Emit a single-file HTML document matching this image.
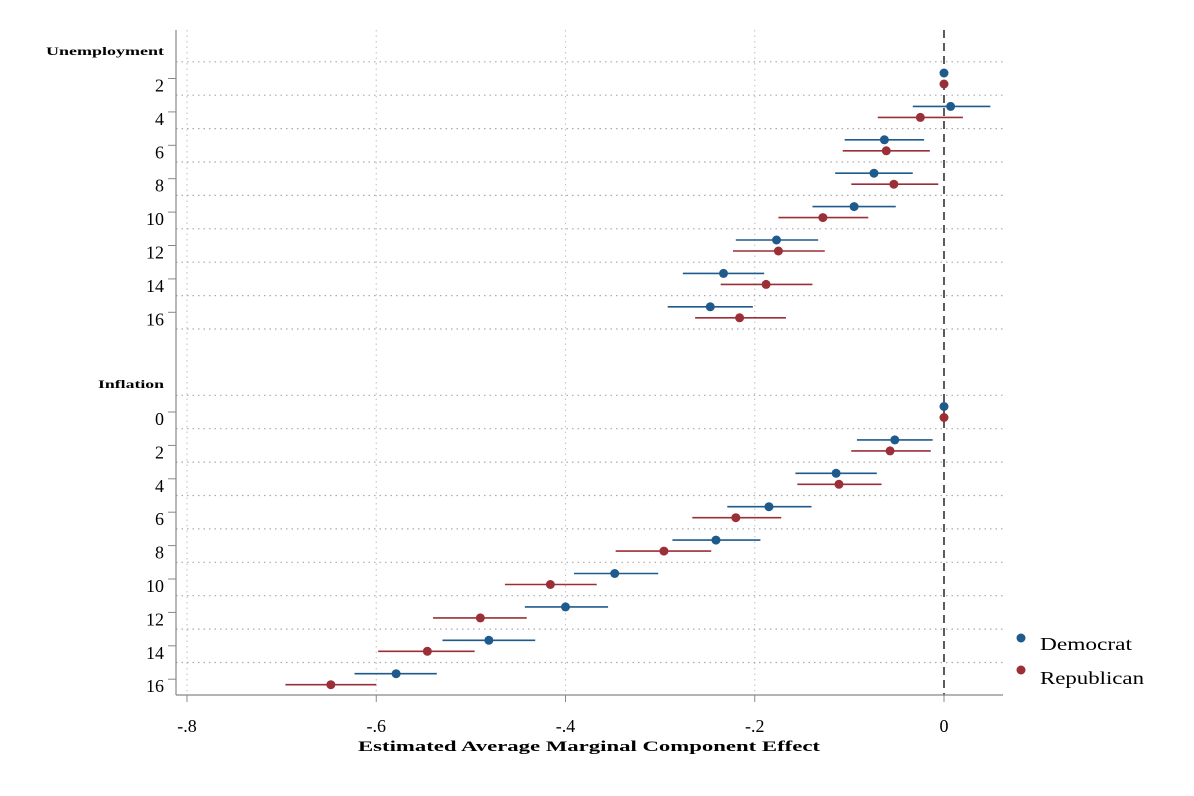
<!DOCTYPE html>
<html><head><meta charset="utf-8"><style>
body{margin:0;background:#fff;}
svg{display:block;font-family:"Liberation Serif",serif;}
</style></head><body>
<svg id="chart" width="1194" height="796" viewBox="0 0 1194 796">
<g id="grid"></g><g id="axes"></g><g id="marks"></g>
<g>
<circle cx="1021" cy="638" r="4.5" fill="#1f5a8c"/>
<text x="1040" y="650" font-size="18" textLength="92" lengthAdjust="spacingAndGlyphs">Democrat</text>
<circle cx="1021" cy="670" r="4.5" fill="#9b2f37"/>
<text x="1040" y="684" font-size="18" textLength="104" lengthAdjust="spacingAndGlyphs">Republican</text>
</g>
<text x="358" y="751" font-size="15" font-weight="bold" textLength="462" lengthAdjust="spacingAndGlyphs">Estimated Average Marginal Component Effect</text>
</svg>
<script>
const unempLabels=["2","4","6","8","10","12","14","16"];
const unempDem=[0,.007,-.063,-.074,-.095,-.177,-.233,-.247];
const unempDemLo=[0,-.033,-.105,-.115,-.139,-.220,-.276,-.292];
const unempDemHi=[0,.049,-.021,-.033,-.051,-.133,-.190,-.202];
const unempRep=[0,-.025,-.061,-.053,-.128,-.175,-.188,-.216];
const unempRepLo=[0,-.070,-.107,-.098,-.175,-.223,-.236,-.263];
const unempRepHi=[0,.020,-.015,-.006,-.080,-.126,-.139,-.167];
const inflLabels=["0","2","4","6","8","10","12","14","16"];
const inflDem=[0,-.052,-.114,-.185,-.241,-.348,-.400,-.481,-.579];
const inflDemLo=[0,-.092,-.157,-.229,-.287,-.391,-.443,-.530,-.623];
const inflDemHi=[0,-.012,-.071,-.140,-.194,-.302,-.355,-.432,-.536];
const inflRep=[0,-.057,-.111,-.220,-.296,-.416,-.490,-.546,-.648];
const inflRepLo=[0,-.098,-.155,-.266,-.347,-.464,-.540,-.598,-.696];
const inflRepHi=[0,-.014,-.066,-.172,-.246,-.367,-.441,-.496,-.600];
const xTicks=[-.8,-.6,-.4,-.2,0];
const xTickLabels=["-.8","-.6","-.4","-.2","0"];

const NS="http://www.w3.org/2000/svg";
const X=v=>944+v*946.25;
const ROW=33.4;
function mk(parent,tag,attrs){const e=document.createElementNS(NS,tag);for(const k in attrs)e.setAttribute(k,attrs[k]);document.getElementById(parent).appendChild(e);return e;}
const BLUE="#1f5a8c",RED="#9b2f37";

xTicks.forEach((t,i)=>{
  if(t!==0){const l=mk('grid','line',{x1:X(t),x2:X(t),y1:30,y2:695,stroke:'#c8c8c8','stroke-width':1.2,'stroke-dasharray':'1.5 4'});
  
  }
  const tk=mk('axes','line',{x1:X(t),x2:X(t),y1:695,y2:702,stroke:'#888','stroke-width':1});
  
  
  const tx=mk('axes','text',{x:X(t),y:732,'font-size':18,'text-anchor':'middle'});
  tx.textContent=xTickLabels[i];
  
  
});
const zl=mk('grid','line',{x1:X(0),x2:X(0),y1:30,y2:695,stroke:'#333','stroke-width':1.6,'stroke-dasharray':'8 5'});



function group(startY,labels,dem,dlo,dhi,rep,rlo,rhi,name,title,titleY,titleX){
  const h=mk('axes','text',{x:titleX,y:titleY,'font-size':12,'font-weight':'bold',textLength:164-titleX,lengthAdjust:'spacingAndGlyphs'});
  h.textContent=title;
  
  
  labels.forEach((lab,i)=>{
    const c=startY+i*ROW;
    const g=mk('grid','line',{x1:176,x2:1003,y1:c-ROW/2,y2:c-ROW/2,stroke:'#aaa','stroke-width':1.2,'stroke-dasharray':'1.5 4'});
    
    
    const tk=mk('axes','line',{x1:168,x2:176,y1:c,y2:c,stroke:'#888','stroke-width':1});
    
    
    const tx=mk('axes','text',{x:164,y:c+13,'font-size':18,'text-anchor':'end'});
    tx.textContent=lab;
    
    
    [[dem,dlo,dhi,BLUE,-5.5,'democrat'],[rep,rlo,rhi,RED,5.5,'republican']].forEach(s=>{
      const y=c+s[4];
      if(s[1][i]!==s[2][i]){const ci=mk('marks','line',{x1:X(s[1][i]),x2:X(s[2][i]),y1:y,y2:y,stroke:s[3],'stroke-width':1.6});
      
      }
      const p=mk('marks','circle',{cx:X(s[0][i]),cy:y,r:4.5,fill:s[3]});
      
      
    });
  });
}
group(78.5,unempLabels,unempDem,unempDemLo,unempDemHi,unempRep,unempRepLo,unempRepHi,'unemployment','Unemployment',55,46);
const bl=mk('grid','line',{x1:176,x2:1003,y1:78.5+7.5*ROW,y2:78.5+7.5*ROW,stroke:'#aaa','stroke-width':1.2,'stroke-dasharray':'1.5 4'});


group(412,inflLabels,inflDem,inflDemLo,inflDemHi,inflRep,inflRepLo,inflRepHi,'inflation','Inflation',388,98);

const ys=mk('axes','line',{x1:176,x2:176,y1:30,y2:695,stroke:'#888','stroke-width':1.2});


const xs=mk('axes','line',{x1:176,x2:1003,y1:695,y2:695,stroke:'#888','stroke-width':1.2});


</script>
</body></html>
